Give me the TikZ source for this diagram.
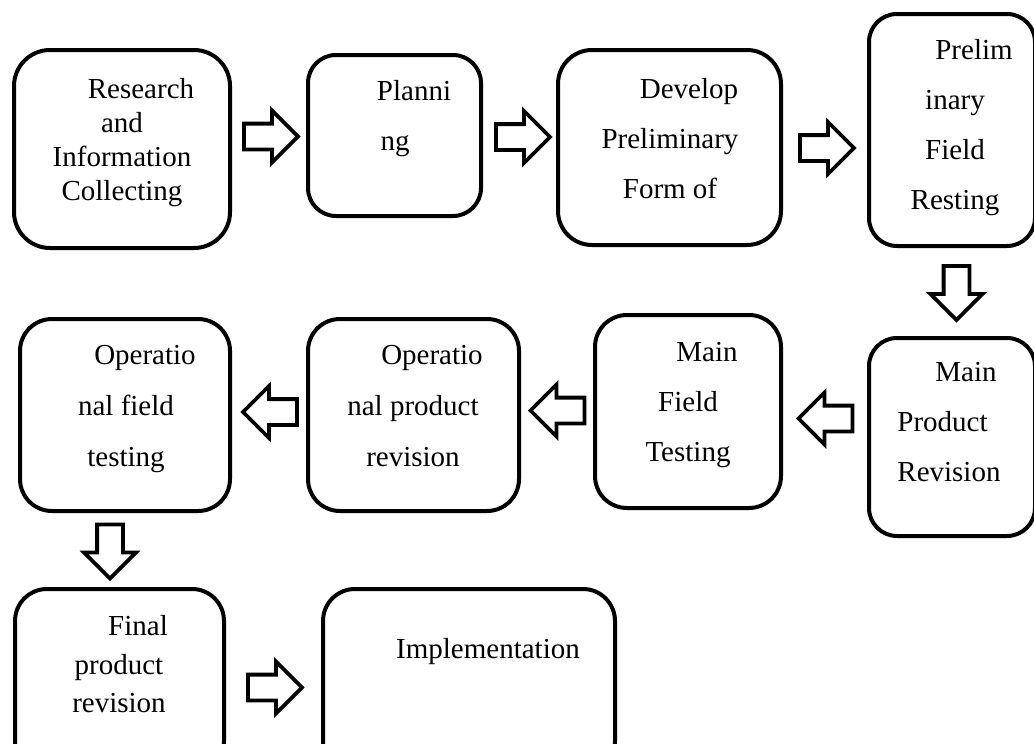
\documentclass[tikz,border=0pt]{standalone}
\usepackage{fontspec}
\setmainfont{Liberation Serif}
\usetikzlibrary{shapes.arrows}

\newcommand{\firstindent}{\hspace*{19pt}}

\begin{document}
\begin{tikzpicture}[x=0.5pt,y=-0.5pt,
    stage box/.style 2 args={draw,line width=2pt,rounded corners=16pt,minimum width=#1,minimum height=#2,inner sep=0pt},
    stage text/.style={font=\fontsize{14.5}{25}\selectfont,align=center,inner sep=0pt,anchor=north},
    block arrow/.style={single arrow,draw,line width=1.9pt,inner xsep=0pt,inner ysep=5.5pt,minimum height=27pt,single arrow head extend=6.5pt}]

            \useasboundingbox (0,0) rectangle (1034,744);
            \clip (0,0) rectangle (1034,744);

            % top row
            \node[stage box={108pt}{99pt},rounded corners=18pt] (1) at (122,149) {};
            \node[stage box={86.5pt}{80.5pt},rounded corners=14pt] (2) at (394.5,135.5) {};
            \node[stage box={111.5pt}{97.5pt},rounded corners=17pt] (3) at (669.5,147.5) {};
            \node[stage box={83pt}{116pt},rounded corners=14pt] (4) at (952,130) {};

            % middle row
            \node[stage box={83pt}{99pt},rounded corners=14pt] (5) at (952,437) {};
            \node[stage box={93pt}{96.5pt}] (6) at (688,411.5) {};
            \node[stage box={105.5pt}{96pt}] (7) at (413.5,415) {};
            \node[stage box={105pt}{96pt}] (8) at (125,415) {};

            % bottom row
            \node[stage box={104.5pt}{92pt}] (9) at (119.5,681) {};
            \node[stage box={146pt}{92pt}] (10) at (469,681) {};

            \node[stage text,font=\fontsize{14.5}{17}\selectfont] (t1) at (122,78) {\firstindent Research\\and\\Information\\Collecting};
            \node[stage text] (t2) at (395,80) {\firstindent Planni\\ng};
            \node[stage text] (t3) at (670,78) {\firstindent Develop\\Preliminary\\Form of};
            \node[stage text] (t4) at (955,39) {\firstindent Prelim\\inary\\Field\\Resting};
            \node[stage text,align=left,anchor=north west] (t5) at (897,362) {\firstindent Main\\Product\\Revision};
            \node[stage text] (t6) at (688,342) {\firstindent Main\\Field\\Testing};
            \node[stage text,font=\fontsize{14.5}{25.5}\selectfont] (t7) at (413,345) {\firstindent Operatio\\nal product\\revision};
            \node[stage text,font=\fontsize{14.5}{25.5}\selectfont] (t8) at (126,345) {\firstindent Operatio\\nal field\\testing};
            \node[stage text,font=\fontsize{14.5}{19.25}\selectfont] (t9) at (119,615) {\firstindent Final\\product\\revision};
            \node[stage text] (t10) at (469,638) {\firstindent Implementation};

            % block arrows between the stages
            \node[block arrow] (a1) at (264.5,136.5) {};
            \node[block arrow] (a2) at (516.5,137) {};
            \node[block arrow] (a3) at (820.5,148) {};
            \node[block arrow,rotate=-90] (a4) at (956.5,286.5) {};
            \node[block arrow,rotate=180] (a5) at (832,418.5) {};
            \node[block arrow,rotate=180] (a6) at (564,410.5) {};
            \node[block arrow,rotate=180] (a7) at (276.5,412) {};
            \node[block arrow,rotate=-90] (a8) at (110,545) {};
            \node[block arrow] (a9) at (268.5,687.5) {};
        \end{tikzpicture}
\end{document}
